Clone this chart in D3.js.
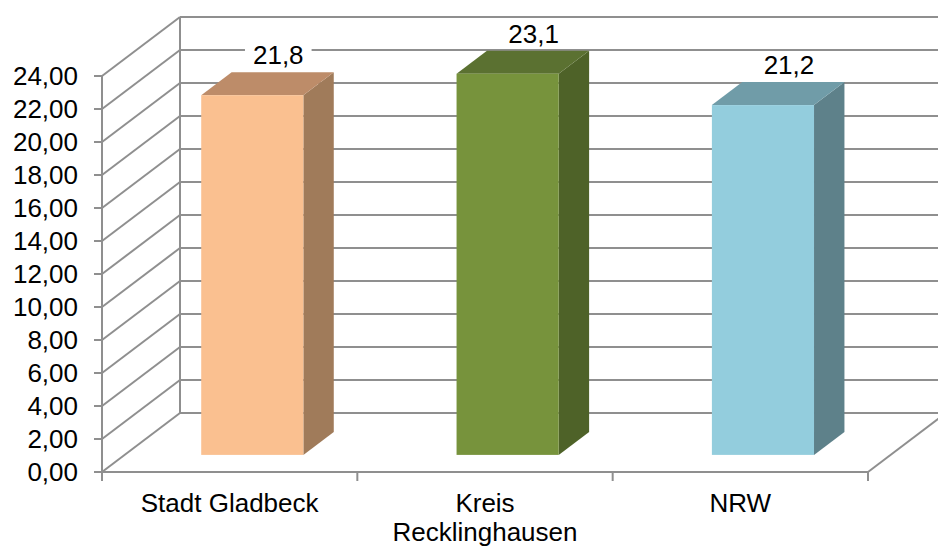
<!DOCTYPE html>
<html>
<head>
<meta charset="utf-8">
<script src="https://cdn.jsdelivr.net/npm/d3@7"></script>
<style>
  html, body { margin: 0; padding: 0; background: #fff; }
  svg { display: block; }
  text { font-family: "Liberation Sans", Arial, sans-serif; fill: #000; }
</style>
</head>
<body>
<svg id="chart" width="938" height="546"></svg>
<script>
// Chart data
const categories = ["Stadt Gladbeck", "Kreis Recklinghausen", "NRW"];
const categoryLines = [["Stadt Gladbeck"], ["Kreis", "Recklinghausen"], ["NRW"]];
const values = [21.8, 23.1, 21.2];
const valueLabels = ["21,8", "23,1", "21,2"];
const yTicks = [0, 2, 4, 6, 8, 10, 12, 14, 16, 18, 20, 22, 24];
const frontColors = ["#FAC090", "#77933C", "#93CDDD"];
const topColors   = ["#BD8C69", "#5B7131", "#709CA8"];
const sideColors  = ["#A07B5A", "#4E6228", "#5E818A"];

const svg = d3.select("#chart");
const FONT = 26;

// Front-plane scales
const y = d3.scaleLinear().domain([0, 24]).range([472, 76]);
const x = d3.scaleBand().domain(categories).range([102, 868]).paddingInner(0).paddingOuter(0);

// Depth projection vector of the 3D box
const DX = 78, DY = -59;
const proj = (px, py, f) => [px + DX * f, py + DY * f];

const gridColor = "#8F8F8F";
const gl = svg.append("g").attr("stroke", gridColor).attr("stroke-width", 2).attr("fill", "none");

// Back wall gridlines
yTicks.forEach(t => {
  const [bx, by] = proj(102, y(t), 1);
  gl.append("line").attr("x1", bx).attr("y1", by).attr("x2", 868 + DX).attr("y2", by);
});
// Back wall left edge
{
  const [bx0, by0] = proj(102, y(0), 1);
  const [, by1] = proj(102, y(24), 1);
  gl.append("line").attr("x1", bx0).attr("y1", by0).attr("x2", bx0).attr("y2", by1);
}
// Left wall diagonals
yTicks.forEach(t => {
  const [bx, by] = proj(102, y(t), 1);
  gl.append("line").attr("x1", 102).attr("y1", y(t)).attr("x2", bx).attr("y2", by);
});
// Floor right edge
{
  const [bx, by] = proj(868, y(0), 1);
  gl.append("line").attr("x1", 868).attr("y1", y(0)).attr("x2", bx).attr("y2", by);
}
// Front value axis and category axis
gl.append("line").attr("x1", 102).attr("y1", y(0)).attr("x2", 102).attr("y2", y(24));
gl.append("line").attr("x1", 102).attr("y1", y(0)).attr("x2", 868).attr("y2", y(0));
yTicks.forEach(t => {
  gl.append("line").attr("x1", 94).attr("y1", y(t)).attr("x2", 102).attr("y2", y(t));
});
const bounds = categories.map(c => x(c)).concat([x.range()[1]]);
bounds.forEach(bx => {
  gl.append("line").attr("x1", bx).attr("y1", y(0)).attr("x2", bx).attr("y2", y(0) + 9);
});

// Value axis labels
svg.append("g").selectAll("text").data(yTicks).join("text")
  .attr("x", 78).attr("y", d => y(d)).attr("dy", "0.35em")
  .attr("text-anchor", "end").attr("font-size", FONT)
  .text(d => d3.format(".2f")(d).replace(".", ","));

// Category labels
const cl = svg.append("g");
categories.forEach((c, i) => {
  const cx = x(c) + x.bandwidth() / 2;
  const t = cl.append("text").attr("text-anchor", "middle").attr("font-size", FONT)
    .attr("x", cx).attr("y", 512);
  categoryLines[i].forEach((ln, j) => {
    t.append("tspan").attr("x", cx).attr("dy", j === 0 ? 0 : 29).text(ln);
  });
});

// 3D bars
const F0 = 0.29, F1 = 0.68;   // depth range of the bars
const barW = x.bandwidth() * 0.4;
const bars = svg.append("g");
categories.forEach((c, i) => {
  const cx = x(c) + x.bandwidth() / 2;
  const xl = cx - barW / 2, xr = cx + barW / 2;
  const [fxl, fyb] = proj(xl, y(0), F0);
  const [fxr] = proj(xr, y(0), F0);
  const [, fyt] = proj(xl, y(values[i]), F0);
  const [bxl, byb] = proj(xl, y(0), F1);
  const [bxr] = proj(xr, y(0), F1);
  const [, byt] = proj(xl, y(values[i]), F1);
  // side face
  bars.append("polygon").attr("fill", sideColors[i])
    .attr("points", [[fxr, fyb], [fxr, fyt], [bxr, byt], [bxr, byb]].join(" "));
  // top face
  bars.append("polygon").attr("fill", topColors[i])
    .attr("points", [[fxl, fyt], [fxr, fyt], [bxr, byt], [bxl, byt]].join(" "));
  // front face
  bars.append("rect").attr("fill", frontColors[i])
    .attr("x", fxl).attr("y", fyt).attr("width", fxr - fxl).attr("height", fyb - fyt);

  // value label above the bar, on a white backing
  const lx = (fxl + fxr) / 2 + 26;
  const ly = byt - 8;
  const g = svg.append("g");
  const txt = g.append("text").attr("x", lx).attr("y", ly).attr("text-anchor", "middle")
    .attr("font-size", FONT).text(valueLabels[i]);
  const bb = txt.node().getBBox();
  g.insert("rect", "text").attr("fill", "#fff")
    .attr("x", bb.x - 8).attr("y", bb.y + 5).attr("width", bb.width + 16).attr("height", bb.height - 8);
});
</script>
</body>
</html>
